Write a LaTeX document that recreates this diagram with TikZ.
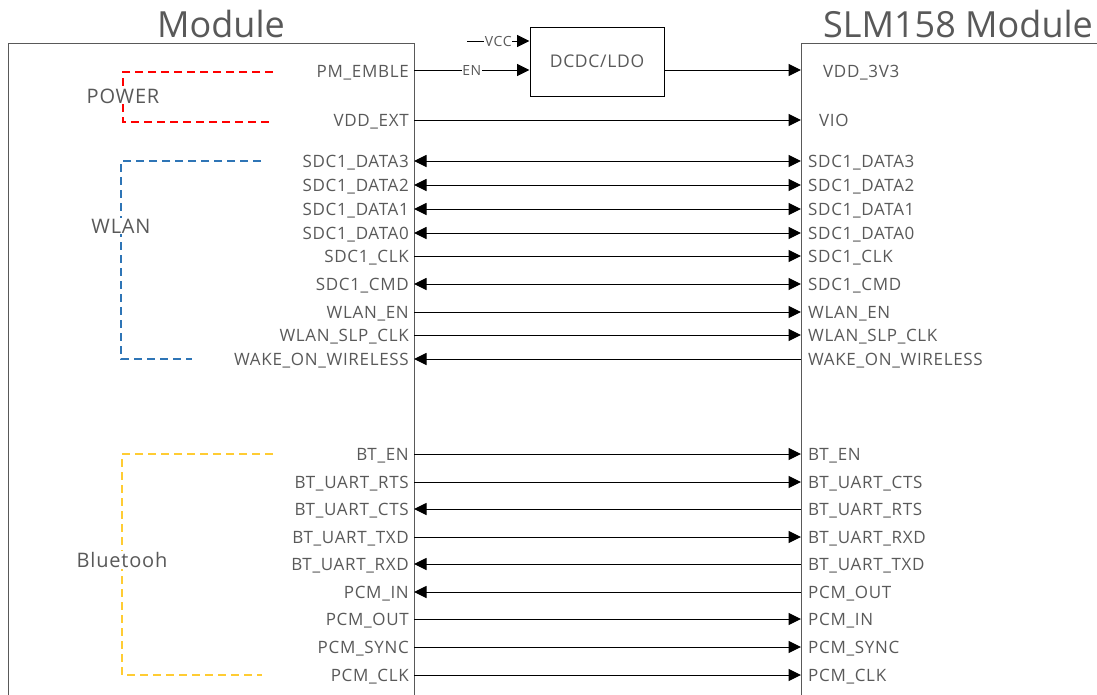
\documentclass[tikz,border=0pt]{standalone}
\usepackage{fontspec}
\setmainfont{Open Sans}[LetterSpace=4]
\usetikzlibrary{arrows.meta,positioning}
\definecolor{txtgray}{HTML}{595959}
\definecolor{pwrred}{HTML}{FF0000}
\definecolor{wlanblue}{HTML}{2E75B6}
\definecolor{btyellow}{HTML}{FFCC33}

\begin{document}
\begin{tikzpicture}[x=1pt,y=-1pt,
  font=\fontsize{17}{20}\selectfont,
  modbox/.style={draw=black!65,line width=1.2pt,inner sep=0pt,anchor=north west},
  pin/.style={inner sep=0pt,text=txtgray},
  lpin/.style={pin,anchor=base east},
  rpin/.style={pin,anchor=base west},
  sig/.style={line width=1pt,>={Triangle[length=12.5pt,width=12pt]}},
  grp/.style={dash pattern=on 8pt off 5pt,line width=1.1pt},
  grplabel/.style={fill=white,inner sep=1pt,text=txtgray,font=\fontsize{20}{24}\selectfont},
  title/.style={anchor=base,text=txtgray,font=\addfontfeature{LetterSpace=0}\fontsize{36}{40}\selectfont}]
\clip (0,0) rectangle (1097,694);

% the two modules, open at the bottom
\node[title] (ltitle) at (221,37) {Module};
\node[title] (rtitle) at (958,37) {SLM158 Module};
\node[modbox,minimum width=406pt,minimum height=700pt] (lmod) at (8,43) {};
\node[modbox,minimum width=400pt,minimum height=700pt] (rmod) at (801,43) {};

% power path through the regulator
\node[draw=black,line width=1pt,minimum width=134pt,minimum height=69pt,
      text=txtgray,font=\fontsize{17.5}{20}\selectfont] (dcdc) at (597,61.5) {DCDC/LDO};
\node[lpin] (pmemble) at (409,77) {PM\_EMBLE};
\node[lpin] (vddext) at (409,126) {VDD\_EXT};
\node[rpin] (vdd3v3) at (823,77) {VDD\_3V3};
\node[rpin] (vio) at (819,126) {VIO};
\coordinate (vccin) at (467,41);
\coordinate (enout) at (414,70);
\coordinate (vddin) at (801,70);
\coordinate (extout) at (414,120);
\coordinate (vioin) at (801,120);
\draw[sig,->] (vccin) -- node[fill=white,inner sep=.5pt,text=txtgray,font=\fontsize{14}{16}\selectfont] {VCC}
  (dcdc.west |- vccin);
\draw[sig,->] (enout) -- node[fill=white,inner sep=.5pt,text=txtgray,font=\fontsize{14}{16}\selectfont] {EN}
  (dcdc.west |- enout);
\draw[sig,->] (dcdc.east |- vddin) -- (vddin);
\draw[sig,->] (extout) -- (vioin);

% signal rows
\foreach \y/\lname/\rname/\tip [count=\i] in {
  161/SDC1\_DATA3/SDC1\_DATA3/<->,
  185/SDC1\_DATA2/SDC1\_DATA2/<->,
  209/SDC1\_DATA1/SDC1\_DATA1/<->,
  233/SDC1\_DATA0/SDC1\_DATA0/<->,
  256/SDC1\_CLK/SDC1\_CLK/->,
  284/SDC1\_CMD/SDC1\_CMD/<->,
  312/WLAN\_EN/WLAN\_EN/->,
  335/WLAN\_SLP\_CLK/WLAN\_SLP\_CLK/->,
  359/WAKE\_ON\_WIRELESS/WAKE\_ON\_WIRELESS/<-,
  454/BT\_EN/BT\_EN/->,
  482/BT\_UART\_RTS/BT\_UART\_CTS/->,
  509/BT\_UART\_CTS/BT\_UART\_RTS/<-,
  537/BT\_UART\_TXD/BT\_UART\_RXD/->,
  564/BT\_UART\_RXD/BT\_UART\_TXD/<-,
  592/PCM\_IN/PCM\_OUT/<-,
  619/PCM\_OUT/PCM\_IN/->,
  647/PCM\_SYNC/PCM\_SYNC/->,
  675/PCM\_CLK/PCM\_CLK/->}{
  \node[lpin] (lp\i) at (409,\y+6) {\lname};
  \node[rpin] (rp\i) at (808,\y+6) {\rname};
  \coordinate (la\i) at (414,\y);
  \coordinate (ra\i) at (801,\y);
  \draw[sig,\tip] (la\i) -- (ra\i);
}

% group brackets
\draw[grp,pwrred] (273,72) -| (123,122) -- (273,122);
\node[grplabel] (power) at (123,96) {POWER};
\draw[grp,wlanblue] (261,161) -| (121,359) -- (192,359);
\node[grplabel] (wlan) at (121,226) {WLAN};
\draw[grp,btyellow] (273,454) -| (122,675) -- (262,675);
\node[grplabel] (bt) at (122,560) {Bluetooh};
\end{tikzpicture}
\end{document}
